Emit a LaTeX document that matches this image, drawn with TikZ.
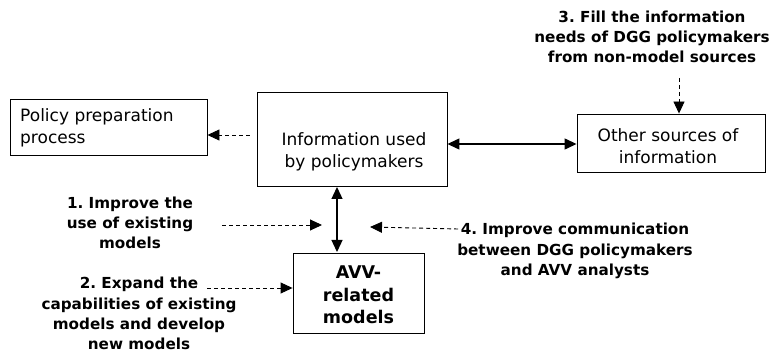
\documentclass[tikz,border=0pt]{standalone}
\usepackage{fontspec}
\setmainfont{DejaVu Sans}
\usetikzlibrary{arrows.meta}
\frenchspacing
\begin{document}
\begin{tikzpicture}[x=1pt,y=-1pt,
  box/.style={draw, line width=0.9pt, inner sep=0pt},
  plain/.style={font=\fontsize{17}{22}\selectfont, align=center, inner sep=0pt},
  goal/.style={font=\fontsize{15.2}{20.3}\selectfont\bfseries, align=center, inner sep=0pt},
  big/.style={font=\fontsize{17.5}{22.5}\selectfont\bfseries, align=center, inner sep=0pt},
  tip/.tip={Triangle[length=12pt,width=11pt]},
  link/.style={line width=1.3pt, tip-tip},
  hint/.style={line width=0.9pt, dash pattern=on 4pt off 3pt, -tip}]
\useasboundingbox (0,0) rectangle (778,352);

% boxes
\node[box, minimum width=197pt, minimum height=56pt] (policy) at (108.5,127) {};
\node[box, minimum width=190pt, minimum height=94pt] (info) at (352,139) {};
\node[box, minimum width=188pt, minimum height=58pt] (other) at (671,143) {};
\node[box, minimum width=131pt, minimum height=80pt] (avv) at (358.5,293) {};

% box texts
\node[plain, align=left, anchor=west] (policytxt) at (20,128) {Policy preparation\\process};
\node[plain] (infotxt) at (354,152) {Information used\\by policymakers};
\node[plain] (othertxt) at (668,146) {Other sources of\\information};
\node[big] (avvtxt) at (358.5,295) {AVV-\\related\\models};

% improvement options
\node[goal] (g1) at (130,223) {1. Improve the\\use of existing\\models};
\node[goal] (g2) at (139,313.5) {2. Expand the\\capabilities of existing\\models and develop\\new models};
\node[goal] (g3) at (652,37) {3. Fill the information\\needs of DGG policymakers\\from non-model sources};
\node[goal] (g4) at (575,251) {4. Improve communication\\between DGG policymakers\\and AVV analysts};

% main information flows
\draw[hint] (info.west |- 0,135) ++(-7,0) coordinate (pfrom) -- (policy.east |- pfrom);
\draw[link] (info.east |- 0,144) -- (other.west |- 0,144);
\coordinate (vtop) at (337,187);
\coordinate (vbot) at (337,252);
\draw[link] (vtop) -- (vbot);

% where the options act
\coordinate (s1) at (222,225);
\coordinate (t1) at (322,225);
\draw[hint] (s1) -- (t1);
\coordinate (s2) at (207,288);
\draw[hint] (s2) -- (avv.west |- s2);
\coordinate (s3) at (679,78);
\draw[hint] (s3) -- (other.north -| s3);
\coordinate (s4) at (458,229);
\coordinate (t4) at (370,227);
\draw[hint] (s4) -- (t4);
\end{tikzpicture}
\end{document}
